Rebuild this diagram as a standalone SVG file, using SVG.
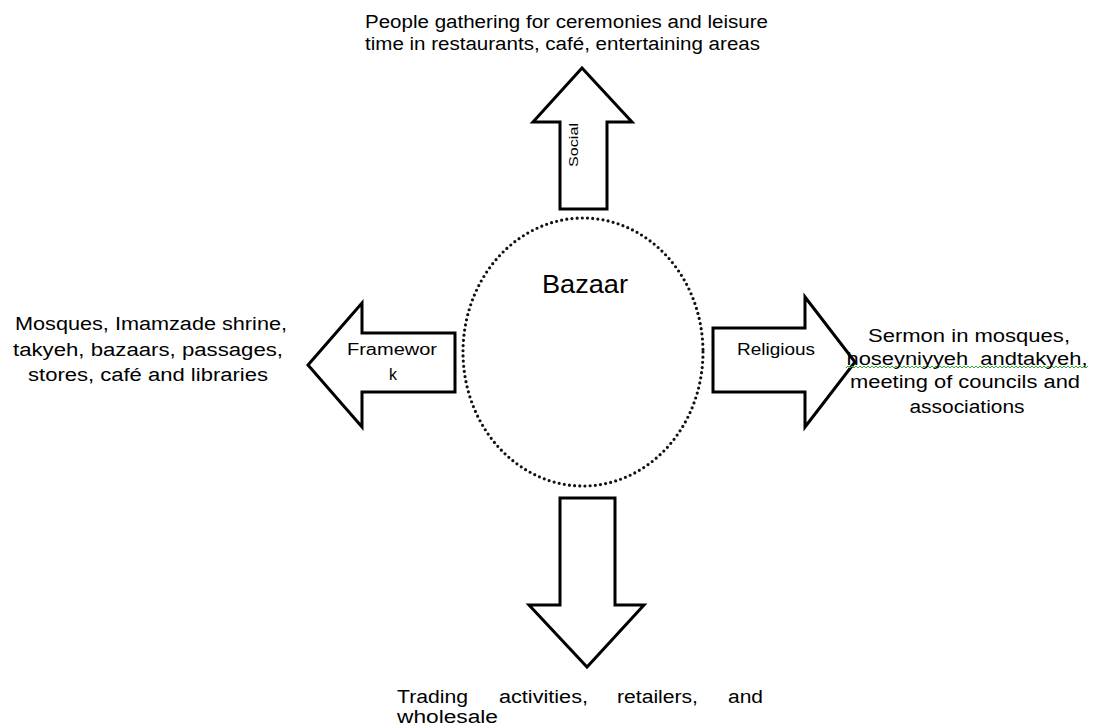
<svg xmlns="http://www.w3.org/2000/svg" width="1094" height="727" viewBox="0 0 1094 727">
<style>
.t{font-family:"Liberation Sans",Arial,sans-serif;fill:#000;}
.arrow{fill:#fff;stroke:#000;stroke-width:3;stroke-linejoin:miter;}
.m{text-anchor:middle;}
</style>
<defs>
<pattern id="wave" x="846" y="365" width="4" height="4" patternUnits="userSpaceOnUse">
<polyline points="0,3 2,1 4,3" fill="none" stroke="#3aa33a" stroke-width="1"/>
</pattern>
</defs>
<rect width="1094" height="727" fill="#fff"/>
<g id="connectors">
<polygon id="arrow-social" class="arrow" points="582,68 632,122 607,122 607,209 560,209 560,122 533,122"/>
<polygon id="arrow-framework" class="arrow" points="308,365 362,303 362,333 455,333 455,392 362,392 362,427"/>
<polygon id="arrow-religious" class="arrow" points="713,328 805,328 805,297 855,362 805,427 805,392 713,392"/>
<polygon id="arrow-trading" class="arrow" points="560,498 615,498 615,605 644,605 587,667 529,605 560,605"/>
</g>
<g id="bazaar">
<ellipse cx="583" cy="352" rx="120" ry="134" fill="none" stroke="#111" stroke-width="3.2" stroke-linecap="round" stroke-dasharray="0 5.2"/>
<text class="t m" x="585" y="293" font-size="25" textLength="86" lengthAdjust="spacingAndGlyphs">Bazaar</text>
</g>
<g id="social-label">
<text class="t m" x="578" y="145" font-size="13" textLength="44" lengthAdjust="spacingAndGlyphs" transform="rotate(-90 578 145)">Social</text>
</g>
<g id="framework-label">
<text class="t m" font-size="16"><tspan x="392" y="355" textLength="90" lengthAdjust="spacingAndGlyphs">Framewor</tspan><tspan x="393" y="380">k</tspan></text>
</g>
<g id="religious-label">
<text class="t m" x="776" y="355" font-size="16" textLength="78" lengthAdjust="spacingAndGlyphs">Religious</text>
</g>
<g id="social-text">
<text class="t" font-size="18"><tspan x="365" y="28" textLength="403" lengthAdjust="spacingAndGlyphs">People gathering for ceremonies and leisure</tspan><tspan x="365" y="50" textLength="395" lengthAdjust="spacingAndGlyphs">time in restaurants, café, entertaining areas</tspan></text>
</g>
<g id="framework-text">
<text class="t m" font-size="18"><tspan x="151" y="330" textLength="272" lengthAdjust="spacingAndGlyphs">Mosques, Imamzade shrine,</tspan><tspan x="148" y="356" textLength="270" lengthAdjust="spacingAndGlyphs">takyeh, bazaars, passages,</tspan><tspan x="148" y="381" textLength="240" lengthAdjust="spacingAndGlyphs">stores, café and libraries</tspan></text>
</g>
<g id="religious-text">
<rect x="846" y="365" width="242" height="4" fill="url(#wave)"/>
<text class="t m" font-size="18"><tspan x="969" y="342" textLength="202" lengthAdjust="spacingAndGlyphs">Sermon in mosques,</tspan><tspan x="967" y="365" textLength="241" lengthAdjust="spacingAndGlyphs">hoseyniyyeh &#160;andtakyeh,</tspan><tspan x="965" y="388" textLength="230" lengthAdjust="spacingAndGlyphs">meeting of councils and</tspan><tspan x="967" y="413" textLength="115" lengthAdjust="spacingAndGlyphs">associations</tspan></text>
</g>
<g id="trading-text">
<text class="t" font-size="18"><tspan x="397" y="703" textLength="71" lengthAdjust="spacingAndGlyphs">Trading</tspan><tspan x="499" y="703" textLength="89" lengthAdjust="spacingAndGlyphs">activities,</tspan><tspan x="617" y="703" textLength="81" lengthAdjust="spacingAndGlyphs">retailers,</tspan><tspan x="728" y="703" textLength="35" lengthAdjust="spacingAndGlyphs">and</tspan><tspan x="397" y="723" textLength="101" lengthAdjust="spacingAndGlyphs">wholesale</tspan></text>
</g>
</svg>
